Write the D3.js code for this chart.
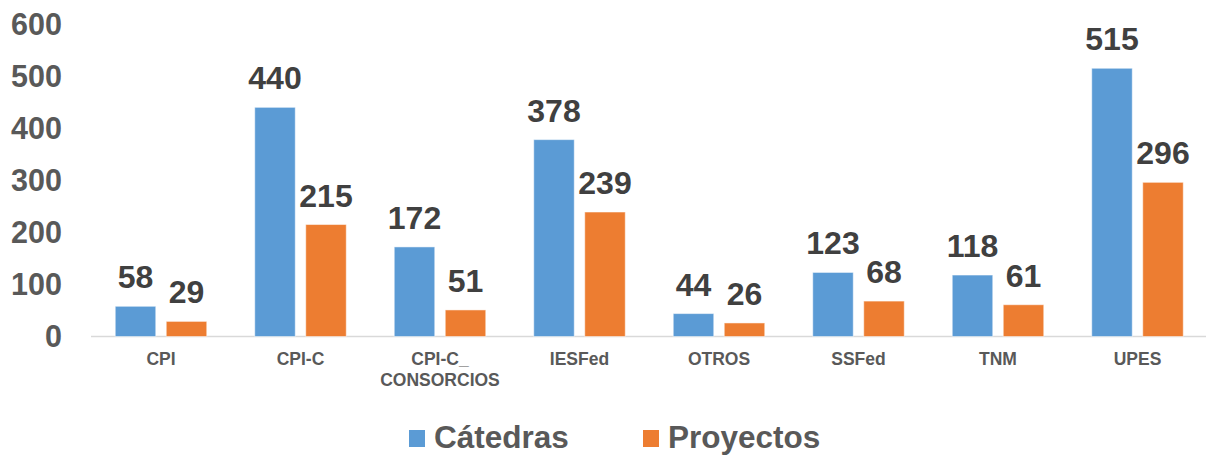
<!DOCTYPE html>
<html><head><meta charset="utf-8">
<script src="https://cdn.jsdelivr.net/npm/d3@7"></script>
<style>body{margin:0;background:#fff}svg{display:block;font-family:"Liberation Sans",Arial,sans-serif}</style>
</head><body><svg id="c" width="1206" height="460"></svg>
<script>
const categories = ["CPI","CPI-C","CPI-C_\nCONSORCIOS","IESFed","OTROS","SSFed","TNM","UPES"];
const catedras = [58,440,172,378,44,123,118,515];
const proyectos = [29,215,51,239,26,68,61,296];
const seriesNames = ["Cátedras","Proyectos"];
const yTicks = [0,100,200,300,400,500,600];
const colors = ["#5B9BD5","#ED7D31"];

const svg = d3.select("#c");
const x = d3.scaleBand().domain(categories).range([91.25,1207.25]).padding(0);
const y = d3.scaleLinear().domain([0,600]).range([336.5,24]);
const bw = 40.5, gap = 10.5;

// y tick labels
svg.append("g").selectAll("text").data(yTicks).join("text")
  .attr("x",62).attr("y",d=>y(d)).attr("dy","0.36em")
  .attr("text-anchor","end").attr("font-size",30.5).attr("font-weight","bold")
  .attr("fill","#595959").text(d=>d);

// axis line
svg.append("line").attr("x1",91).attr("x2",1206).attr("y1",336.5).attr("y2",336.5)
  .attr("stroke","#D9D9D9").attr("stroke-width",1.5);

const series = [catedras, proyectos];
series.forEach((vals,si)=>{
  const g = svg.append("g");
  const cx = (c)=> x(c) + x.bandwidth()/2 + (si===0 ? -(gap/2+bw/2) : (gap/2+bw/2));
  g.selectAll("rect").data(categories).join("rect")
    .attr("x",c=>cx(c)-bw/2).attr("width",bw)
    .attr("y",(c,i)=>y(vals[i])).attr("height",(c,i)=>y(0)-y(vals[i]))
    .attr("fill",colors[si]).attr("stroke","#ffffff").attr("stroke-opacity",0.5).attr("stroke-width",1);
  g.selectAll("text").data(categories).join("text")
    .attr("x",c=>cx(c)).attr("y",(c,i)=>y(vals[i])-18)
    .attr("text-anchor","middle").attr("font-size",32).attr("font-weight","bold")
    .attr("fill","#404040").text((c,i)=>vals[i]);
});

// category labels
const cl = svg.append("g");
categories.forEach(c=>{
  const t = cl.append("text").attr("x",x(c)+x.bandwidth()/2).attr("y",365)
    .attr("text-anchor","middle").attr("font-size",17.5).attr("font-weight","bold").attr("fill","#595959");
  c.split("\n").forEach((line,i)=>{
    t.append("tspan").attr("x",x(c)+x.bandwidth()/2).attr("dy",i?21:0).text(line);
  });
});

// legend
const legX = [409,643];
seriesNames.forEach((n,i)=>{
  svg.append("rect").attr("x",legX[i]).attr("y",430).attr("width",16).attr("height",17).attr("fill",colors[i]);
  svg.append("text").attr("x",legX[i]+25).attr("y",448).attr("font-size",31.5).attr("font-weight","bold")
    .attr("fill","#595959").text(n);
});
</script></body></html>
